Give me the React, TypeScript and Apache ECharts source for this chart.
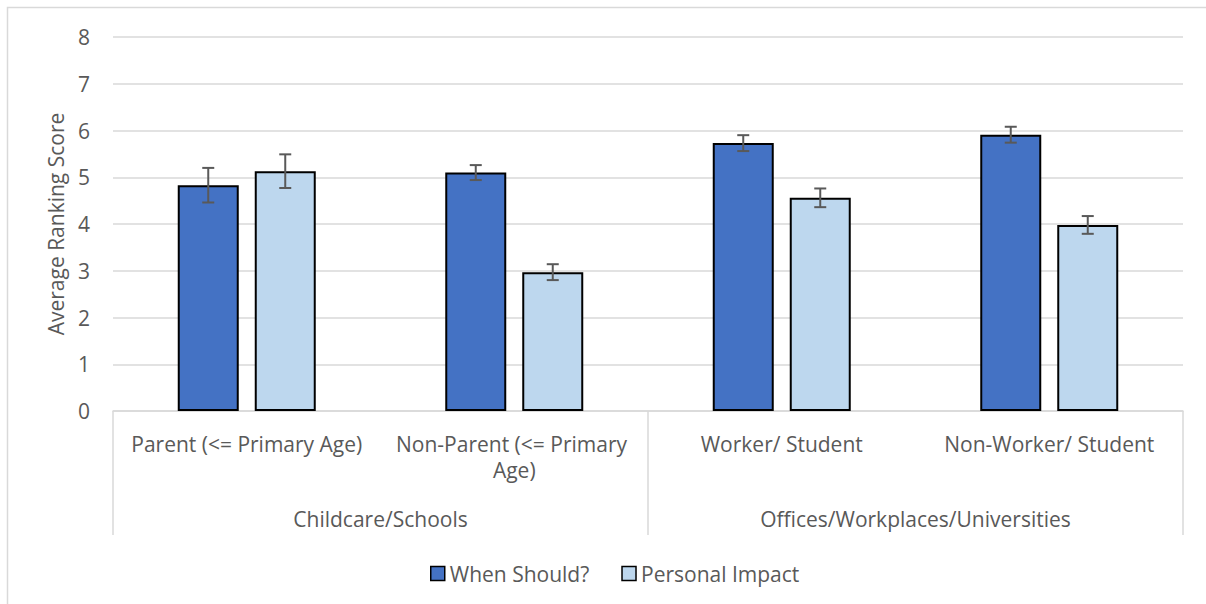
import React, { useEffect, useRef } from "react";
import * as echarts from "echarts";

const categories = [
  "Parent (<= Primary Age)",
  "Non-Parent (<= Primary Age)",
  "Worker/ Student",
  "Non-Worker/ Student",
];
const groups = ["Childcare/Schools", "Offices/Workplaces/Universities"];
const seriesNames = ["When Should?", "Personal Impact"];
const whenShould = [4.83, 5.1, 5.73, 5.91];
const whenShouldErr = [0.37, 0.16, 0.17, 0.17];
const personalImpact = [5.13, 2.97, 4.56, 3.98];
const personalImpactErr = [0.36, 0.17, 0.2, 0.19];
const yTicks = [0, 1, 2, 3, 4, 5, 6, 7, 8];

const FONT = "Open Sans";
const TEXT = "#595959";
const GRIDC = "#d9d9d9";
const BAR_W = 61;
const BAR_GAP = 16;
const COLORS = ["#4472C4", "#BDD7EE"];

function errorSeries(values: number[], errs: number[], sideSign: number) {
  return {
    type: "custom",
    xAxisIndex: 0,
    yAxisIndex: 0,
    z: 5,
    silent: true,
    data: values.map((v, i) => [i, v - errs[i], v + errs[i]]),
    renderItem: (params: any, api: any) => {
      const idx = api.value(0);
      const lo = api.coord([idx, api.value(1)]);
      const hi = api.coord([idx, api.value(2)]);
      const x = lo[0] + sideSign * (BAR_W + BAR_GAP) / 2;
      const cap = 6;
      const style = { stroke: TEXT, lineWidth: 2, fill: null };
      return {
        type: "group",
        children: [
          { type: "line", shape: { x1: x, y1: lo[1], x2: x, y2: hi[1] }, style },
          { type: "line", shape: { x1: x - cap, y1: lo[1], x2: x + cap, y2: lo[1] }, style },
          { type: "line", shape: { x1: x - cap, y1: hi[1], x2: x + cap, y2: hi[1] }, style },
        ],
      };
    },
  };
}

export default function App() {
  const ref = useRef<HTMLDivElement>(null);
  useEffect(() => {
    if (!ref.current) return;
    const chart = echarts.init(ref.current, undefined, { renderer: "svg" });
    chart.setOption({
      animation: false,
      backgroundColor: "#ffffff",
      textStyle: { fontFamily: FONT, color: TEXT },
      graphic: [
        {
          type: "rect",
          shape: { x: 7.5, y: 7.5, width: 1220, height: 620 },
          style: { fill: "none", stroke: GRIDC, lineWidth: 1.5 },
          silent: true,
        },
      ],
      grid: { left: 113, right: 23, top: 37, bottom: 193, containLabel: false },
      legend: {
        left: 430,
        top: 563,
        padding: 0,
        itemWidth: 14,
        itemHeight: 14,
        itemGap: 32,
        icon: "rect",
        textStyle: { fontFamily: FONT, fontSize: 21, color: TEXT },
        data: seriesNames.map((n, i) => ({
          name: n,
          itemStyle: { color: COLORS[i], borderColor: "#000", borderWidth: 1.5 },
        })),
      },
      xAxis: [
        {
          type: "category",
          data: categories,
          position: "bottom",
          axisLine: { show: true, lineStyle: { color: GRIDC, width: 1.5 } },
          axisTick: { show: false },
          axisLabel: {
            interval: 0,
            margin: 20,
            fontFamily: FONT,
            fontSize: 21,
            lineHeight: 26,
            color: TEXT,
            width: 262,
            overflow: "break",
          },
        },
        {
          type: "category",
          data: groups,
          position: "bottom",
          offset: 0,
          axisLine: { show: false },
          axisTick: { show: true, length: 124, lineStyle: { color: GRIDC, width: 1.5 } },
          axisLabel: {
            interval: 0,
            margin: 95,
            fontFamily: FONT,
            fontSize: 21,
            lineHeight: 26,
            color: TEXT,
          },
        },
      ],
      yAxis: {
        type: "value",
        min: yTicks[0],
        max: yTicks[yTicks.length - 1],
        interval: 1,
        name: "Average Ranking Score",
        nameLocation: "middle",
        nameGap: 47,
        nameRotate: 90,
        nameTextStyle: { fontFamily: FONT, fontSize: 21, color: TEXT },
        axisLine: { show: false },
        axisTick: { show: false },
        axisLabel: { margin: 23, fontFamily: FONT, fontSize: 21, color: TEXT },
        splitLine: { lineStyle: { color: GRIDC, width: 1.5 } },
      },
      series: [
        {
          name: seriesNames[0],
          type: "bar",
          data: whenShould,
          barWidth: BAR_W,
          barGap: `${(BAR_GAP / BAR_W) * 100}%`,
          itemStyle: { color: COLORS[0], borderColor: "#000", borderWidth: 2 },
        },
        {
          name: seriesNames[1],
          type: "bar",
          data: personalImpact,
          barWidth: BAR_W,
          barGap: `${(BAR_GAP / BAR_W) * 100}%`,
          itemStyle: { color: COLORS[1], borderColor: "#000", borderWidth: 2 },
        },
        errorSeries(whenShould, whenShouldErr, -1),
        errorSeries(personalImpact, personalImpactErr, 1),
      ],
    });
    return () => chart.dispose();
  }, []);
  return (
    <div
      ref={ref}
      style={{ position: "fixed", left: 0, top: 0, width: 1206, height: 604 }}
    />
  );
}
